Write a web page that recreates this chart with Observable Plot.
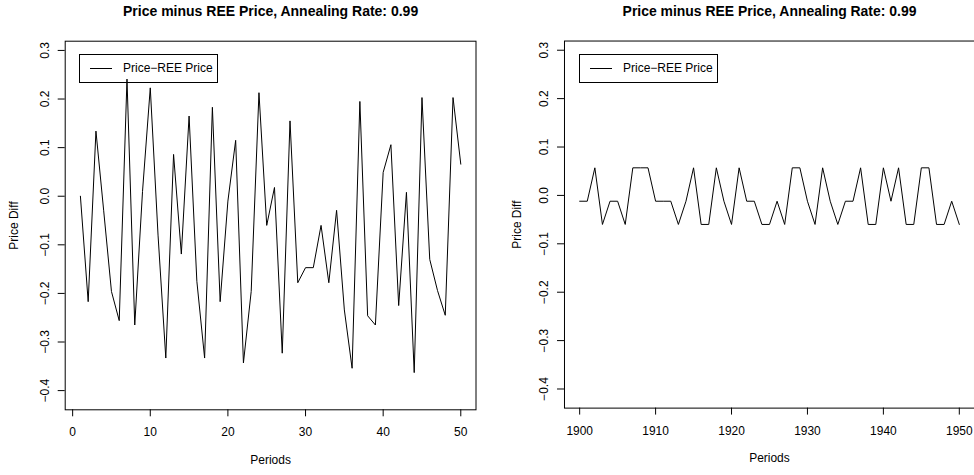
<!DOCTYPE html>
<html>
<head>
<meta charset="utf-8">
<script src="https://cdn.jsdelivr.net/npm/d3@7"></script>
<script src="https://cdn.jsdelivr.net/npm/@observablehq/plot@0.6"></script>
<style>
  html, body { margin: 0; padding: 0; background: #fff; }
  body { width: 974px; height: 475px; position: relative; overflow: hidden; font-family: "Liberation Sans", Arial, sans-serif; }
  .panel { position: absolute; top: 0; }
  .legend { position: absolute; box-sizing: border-box; border: 1px solid #000; background: transparent; height: 29px; width: 139px; }
  .legend .swatch { position: absolute; left: 10px; top: 13px; width: 22px; height: 0; border-top: 1px solid #000; }
  .legend .lab { position: absolute; left: 43px; top: 6px; font-size: 12px; line-height: 14px; color: #000; white-space: nowrap; }
</style>
</head>
<body>
<div id="left" class="panel" style="left:0px"></div>
<div id="right" class="panel" style="left:487px"></div>
<div class="legend" style="left:79px; top:54px"><div class="swatch"></div><div class="lab">Price−REE Price</div></div>
<div class="legend" style="left:579px; top:54px"><div class="swatch"></div><div class="lab">Price−REE Price</div></div>
<script>
// ---- data ----
const titleText = "Price minus REE Price, Annealing Rate: 0.99";
const xLabel = "Periods";
const yLabel = "Price Diff";

// left panel: periods 1..50
const leftPeriods = d3.range(1, 51);
const leftValues = [
  0.000, -0.217, 0.134, -0.030, -0.196, -0.256, 0.241, -0.265, 0.010, 0.223,
  -0.080, -0.333, 0.086, -0.119, 0.165, -0.175, -0.333, 0.183, -0.217, -0.010,
  0.115, -0.343, -0.196, 0.213, -0.060, 0.018, -0.323, 0.155, -0.178, -0.147,
  -0.147, -0.060, -0.178, -0.029, -0.234, -0.354, 0.195, -0.246, -0.265, 0.049,
  0.106, -0.225, 0.008, -0.363, 0.203, -0.130, -0.194, -0.245, 0.203, 0.066
];

// right panel: years 1900..1950
const rightPeriods = d3.range(1900, 1951);
const H = 0.057, M = -0.012, L = -0.060;
const rightValues = [
  M, M, H, L, M, M, L, H, H, H,
  M, M, M, L, M, H, L, L, H, M,
  L, H, M, M, L, L, M, L, H, H,
  M, L, H, M, L, M, M, H, L, L,
  H, M, H, L, L, H, H, L, L, M,
  L
];

const leftXTicks = [0, 10, 20, 30, 40, 50];
const rightXTicks = [1900, 1910, 1920, 1930, 1940, 1950];
const yTicks = [-0.4, -0.3, -0.2, -0.1, 0.0, 0.1, 0.2, 0.3];

const fmtY = d3.format(".1f");
const font = "'Liberation Sans', Arial, Helvetica, sans-serif";

function panel(periods, values, xTicks, xDomain, opts) {
  const data = periods.map((p, i) => ({x: p, y: values[i]}));
  return Plot.plot({
    width: opts.width,
    height: 475,
    marginLeft: opts.marginLeft,
    marginRight: opts.marginRight,
    marginTop: 40.7,
    marginBottom: 65.7,
    style: {fontFamily: font, fontSize: "12px", color: "#000", background: "#fff", overflow: "visible"},
    x: {domain: xDomain, axis: null},
    y: {domain: [-0.4395, 0.319], axis: null},
    marks: [
      Plot.frame({stroke: "#000", strokeWidth: 1}),
      Plot.line(data, {x: "x", y: "y", stroke: "#000", strokeWidth: 1}),
      Plot.axisX(xTicks, {anchor: "bottom", tickSize: 7, tickPadding: 11, tickFormat: d => String(d), label: null, fontSize: 12}),
      Plot.axisY(yTicks, {anchor: "left", tickSize: 7, tickFormat: () => "", label: null}),
      Plot.text(yTicks, {y: d => d, text: d => fmtY(d), frameAnchor: "left", dx: -20.5, rotate: -90, textAnchor: "middle", lineAnchor: "middle", fontSize: 12, fill: "#000"}),
      Plot.text([xLabel], {text: d => d, frameAnchor: "bottom", dy: 50.5, lineAnchor: "middle", fontSize: 12, fill: "#000"}),
      Plot.text([yLabel], {text: d => d, frameAnchor: "left", dx: opts.yLabelDx, rotate: -90, textAnchor: "middle", lineAnchor: "middle", fontSize: 12, fill: "#000"}),
      Plot.text([titleText], {text: d => d, frameAnchor: "top", dy: -29.5, lineAnchor: "middle", fontSize: 14, fontWeight: "bold", fill: "#000"})
    ]
  });
}

document.getElementById("left").append(
  panel(leftPeriods, leftValues, leftXTicks, [1 - 0.04 * 49, 50 + 0.04 * 49], {width: 487, marginLeft: 64.7, marginRight: 11.5, yLabelDx: -51.5})
);
document.getElementById("right").append(
  panel(rightPeriods, rightValues, rightXTicks, [1898, 1952], {width: 489, marginLeft: 77.3, marginRight: 0, yLabelDx: -47.5})
);
</script>
</body>
</html>
